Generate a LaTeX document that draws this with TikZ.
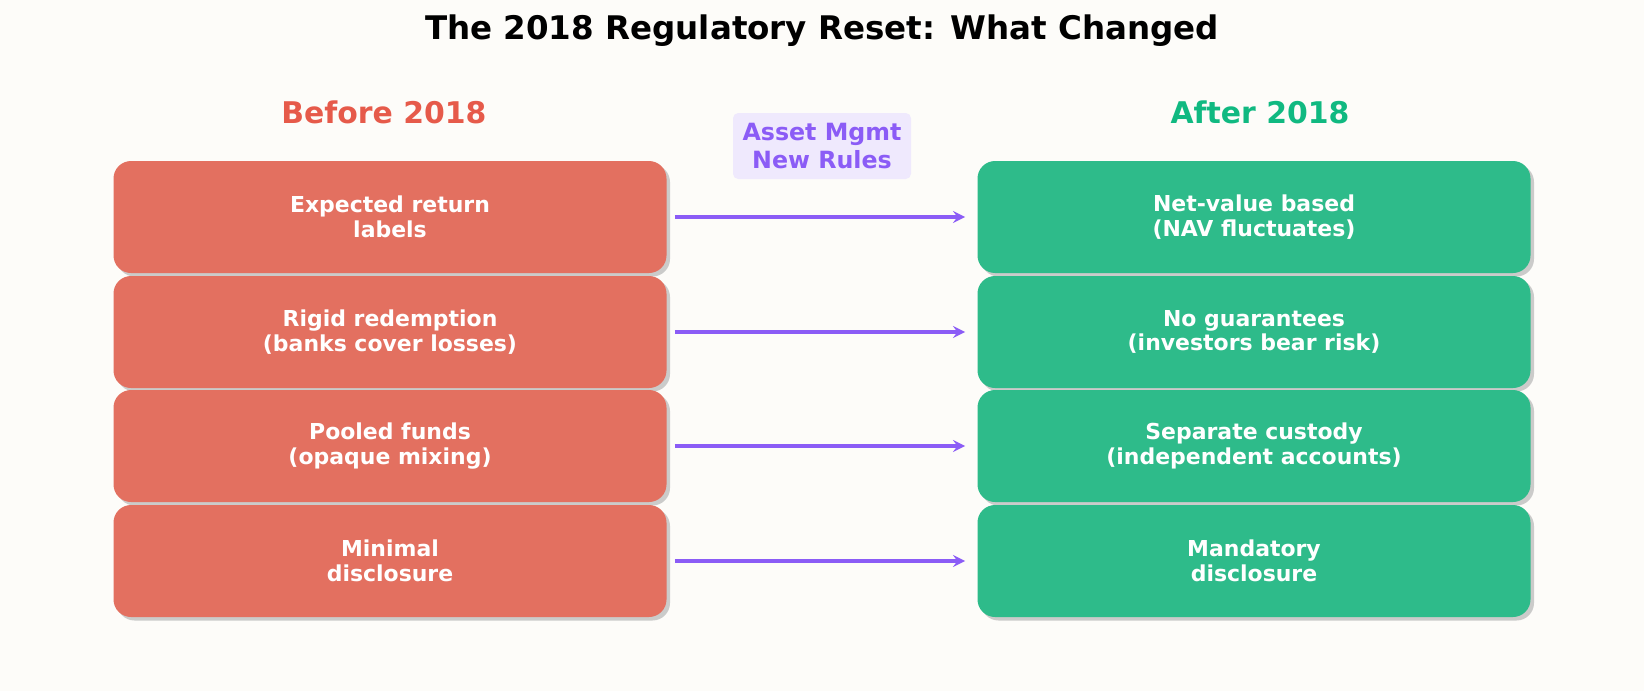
\documentclass[tikz,border=0pt]{standalone}
\usepackage{fontspec}
\setmainfont{DejaVu Sans}
\usetikzlibrary{shadows}
\definecolor{bgcol}{HTML}{FDFCF9}
\definecolor{oldcol}{HTML}{E37060}
\definecolor{newcol}{HTML}{2EBB8A}
\definecolor{oldhead}{HTML}{E65A4A}
\definecolor{newhead}{HTML}{10B981}
\definecolor{rulecol}{HTML}{8B5CF6}
\definecolor{tagcol}{HTML}{EFE9FD}
\tikzset{
  box/.style={rounded corners=10pt,minimum width=553*0.02cm,minimum height=112*0.02cm,
    text=white,font=\bfseries\fontsize{12.5}{14}\selectfont,align=center,
    drop shadow={shadow xshift=2pt,shadow yshift=-2pt,fill=black!25,opacity=.8}},
  old/.style={box,fill=oldcol},
  new/.style={box,fill=newcol},
  change/.style={->,>=stealth,line width=2pt,draw=rulecol}
}
\begin{document}
\begin{tikzpicture}[x=0.02cm,y=-0.02cm]
  \fill[bgcol] (0,0) rectangle (1644,691);
  \useasboundingbox (0,0) rectangle (1644,691);

  \node (title) at (822,31) {\bfseries\fontsize{18.5}{20}\selectfont The 2018 Regulatory Reset: What Changed};
  \node[text=oldhead] (before) at (384,112) {\bfseries\fontsize{17}{19}\selectfont Before 2018};
  \node[text=newhead] (after) at (1260,112) {\bfseries\fontsize{17}{19}\selectfont After 2018};
  \node[fill=tagcol,rounded corners=3pt,minimum width=178*0.02cm,minimum height=66*0.02cm,
        text=rulecol,align=center,font=\bfseries\fontsize{13.5}{15.5}\selectfont] (tag) at (822,146) {Asset Mgmt\\New Rules};

  \node[old] (o1) at (390,217) {Expected return\\labels};
  \node[old] (o2) at (390,332) {Rigid redemption\\(banks cover losses)};
  \node[old] (o3) at (390,446) {Pooled funds\\(opaque mixing)};
  \node[old] (o4) at (390,561) {Minimal\\disclosure};

  \node[new] (n1) at (1254,217) {Net-value based\\(NAV fluctuates)};
  \node[new] (n2) at (1254,332) {No guarantees\\(investors bear risk)};
  \node[new] (n3) at (1254,446) {Separate custody\\(independent accounts)};
  \node[new] (n4) at (1254,561) {Mandatory\\disclosure};

  \foreach \i in {1,...,4}
    \draw[change] ([xshift=8*0.02cm]o\i.east) -- ([xshift=-12*0.02cm]n\i.west);
\end{tikzpicture}
\end{document}
